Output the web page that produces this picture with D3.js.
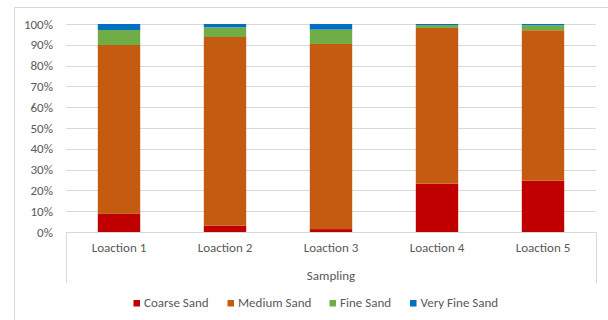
<!DOCTYPE html>
<html>
<head>
<meta charset="utf-8">
<script src="https://cdn.jsdelivr.net/npm/d3@7"></script>
<style>
  html, body { margin: 0; padding: 0; background: #fff; }
  svg { display: block; }
  text { font-family: Carlito, Calibri, "Liberation Sans", Arial, sans-serif; fill: #595959; }
</style>
</head>
<body>
<svg id="chart" width="608" height="320"></svg>
<script>
// Grain-size fractions (%) per sampling location
const categories = ["Loaction 1", "Loaction 2", "Loaction 3", "Loaction 4", "Loaction 5"];
const seriesNames = ["Coarse Sand", "Medium Sand", "Fine Sand", "Very Fine Sand"];
const coarseSand   = [8.7, 3.0, 1.4, 23.2, 24.7];
const mediumSand   = [81.2, 90.75, 89.0, 74.9, 72.3];
const fineSand     = [7.2, 4.65, 6.9, 1.4, 2.4];
const veryFineSand = [2.9, 1.6, 2.7, 0.5, 0.6];
const yTicks = [0, 0.1, 0.2, 0.3, 0.4, 0.5, 0.6, 0.7, 0.8, 0.9, 1.0];
const axisTitle = "Sampling";
const colors = ["#C00000", "#C55A11", "#70AD47", "#0070C0"];

const svg = d3.select("#chart");
const plot = { left: 66, right: 596, top: 24, bottom: 232 };
const fontSize = "13px";

// Chart area border (top and left edges visible)
svg.append("line").attr("x1", 14.5).attr("x2", 14.5).attr("y1", 7.5).attr("y2", 320)
  .attr("stroke", "#D9D9D9");
svg.append("line").attr("x1", 14.5).attr("x2", 608).attr("y1", 7.5).attr("y2", 7.5)
  .attr("stroke", "#D9D9D9");

const x = d3.scaleBand().domain(categories).range([plot.left, plot.right])
  .paddingInner(0.6).paddingOuter(0.3);
const y = d3.scaleLinear().domain([0, 1]).range([plot.bottom, plot.top]);

// Gridlines
svg.append("g").selectAll("line").data(yTicks.filter(d => d > 0)).join("line")
  .attr("x1", plot.left).attr("x2", plot.right)
  .attr("y1", d => Math.round(y(d)) + 0.5).attr("y2", d => Math.round(y(d)) + 0.5)
  .attr("stroke", "#D9D9D9").attr("stroke-width", 1);

// Y axis labels
const yAxis = d3.axisLeft(y).tickValues(yTicks).tickFormat(d3.format(".0%")).tickSize(0).tickPadding(0);
const yg = svg.append("g").attr("transform", `translate(${plot.left - 13},0)`).call(yAxis);
yg.select(".domain").remove();
yg.selectAll("text").style("font-size", fontSize).attr("fill", "#595959");

// Stacked bars
const rows = categories.map((c, i) => ({
  cat: c,
  "Coarse Sand": coarseSand[i] / 100,
  "Medium Sand": mediumSand[i] / 100,
  "Fine Sand": fineSand[i] / 100,
  "Very Fine Sand": veryFineSand[i] / 100
}));
const stack = d3.stack().keys(seriesNames)(rows);
const color = d3.scaleOrdinal().domain(seriesNames).range(colors);

svg.append("g").selectAll("g").data(stack).join("g")
  .attr("fill", d => color(d.key))
  .selectAll("rect").data(d => d).join("rect")
  .attr("x", d => x(d.data.cat))
  .attr("width", x.bandwidth())
  .attr("y", d => y(d[1]))
  .attr("height", d => y(d[0]) - y(d[1]));

// Category axis
const xAxisG = svg.append("g");
xAxisG.append("line").attr("x1", plot.left).attr("x2", plot.right)
  .attr("y1", plot.bottom + 0.5).attr("y2", plot.bottom + 0.5).attr("stroke", "#D9D9D9");
[plot.left, plot.right].forEach(px => {
  xAxisG.append("line").attr("x1", px + 0.5).attr("x2", px + 0.5)
    .attr("y1", plot.bottom).attr("y2", 283).attr("stroke", "#D9D9D9");
});
const xAxis = d3.axisBottom(x).tickSize(0).tickPadding(0);
const xg = svg.append("g").attr("transform", `translate(0,${plot.bottom + 11})`).call(xAxis);
xg.select(".domain").remove();
xg.selectAll("text").style("font-size", fontSize).attr("fill", "#595959").attr("dy", "0.71em");

svg.append("text")
  .attr("x", (plot.left + plot.right) / 2).attr("y", 280)
  .attr("text-anchor", "middle").style("font-size", fontSize)
  .text(axisTitle);

// Legend
const legendX = [133.5, 227.5, 329.5, 410];
const lg = svg.append("g").selectAll("g").data(seriesNames).join("g")
  .attr("transform", (d, i) => `translate(${legendX[i]},0)`);
lg.append("rect").attr("x", 0).attr("y", 300).attr("width", 6.5).attr("height", 6.5)
  .attr("fill", d => color(d));
lg.append("text").attr("x", 10.5).attr("y", 306.5).style("font-size", fontSize).text(d => d);
</script>
</body>
</html>
